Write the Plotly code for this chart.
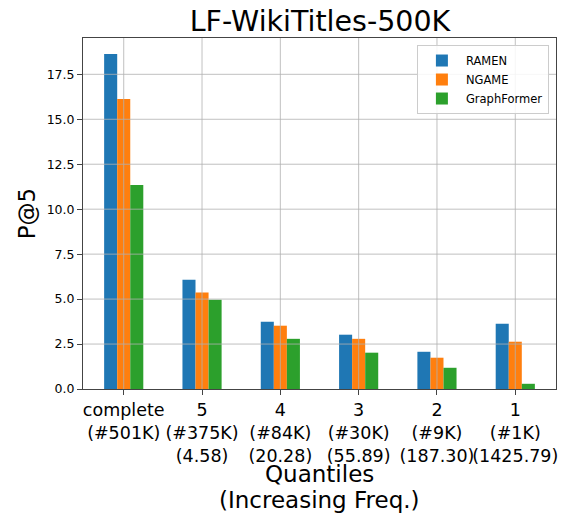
import plotly.graph_objects as go

categories = ["complete", "5", "4", "3", "2", "1"]
label_counts = ["(#501K)", "(#375K)", "(#84K)", "(#30K)", "(#9K)", "(#1K)"]
label_freqs = ["", "(4.58)", "(20.28)", "(55.89)", "(187.30)", "(1425.79)"]

ramen = [18.63, 6.07, 3.74, 3.02, 2.07, 3.63]
ngame = [16.13, 5.37, 3.52, 2.79, 1.74, 2.63]
graphformer = [11.35, 4.96, 2.79, 2.02, 1.18, 0.29]

y_ticks = [0.0, 2.5, 5.0, 7.5, 10.0, 12.5, 15.0, 17.5]

series = [("RAMEN", ramen, "#1f77b4"),
          ("NGAME", ngame, "#ff7f0e"),
          ("GraphFormer", graphformer, "#2ca02c")]

xpos = list(range(len(categories)))
ticktext = []
for c, n, f in zip(categories, label_counts, label_freqs):
    lines = [c, n] + ([f] if f else [])
    ticktext.append("<br>".join(lines))

FONT = "DejaVu Sans"
# page body adds an 8px offset; figure is sized to fit the remaining window
W, H = 559, 506
ML, MR, MT, MB = 75, 11, 30, 125
plot_h = H - MT - MB

fig = go.Figure()
for name, vals, col in series:
    fig.add_trace(go.Bar(x=xpos, y=vals, name=name, marker_color=col,
                         marker_line_width=0))

grid_col = "rgba(176,176,176,0.8)"
shapes = []
for xv in xpos:
    shapes.append(dict(type="line", xref="x", yref="paper", x0=xv, x1=xv, y0=0, y1=1,
                       line=dict(color=grid_col, width=1), layer="above"))
for yv in y_ticks[1:]:
    shapes.append(dict(type="line", xref="paper", yref="y", x0=0, x1=1, y0=yv, y1=yv,
                       line=dict(color=grid_col, width=1), layer="above"))

def below_axis(px):
    return -px / plot_h

fig.update_layout(
    width=W, height=H,
    margin=dict(l=ML, r=MR, t=MT, b=MB),
    paper_bgcolor="white", plot_bgcolor="white",
    barmode="group", bargap=0.5, bargroupgap=0,
    font=dict(family=FONT, color="black"),
    title=dict(text="LF-WikiTitles-500K", x=312 / W, xanchor="center",
               y=1 - 13 / H, yanchor="middle", font=dict(size=28.5, family=FONT)),
    showlegend=True,
    legend=dict(x=0.985, y=0.98, xanchor="right", yanchor="top",
                bgcolor="rgba(255,255,255,0.85)", bordercolor="#cccccc", borderwidth=1,
                font=dict(size=11.5, family=FONT), tracegroupgap=0, itemwidth=38),
    shapes=shapes,
    xaxis=dict(range=[-0.52, 5.52], tickvals=xpos, ticktext=ticktext, tickangle=0,
               tickfont=dict(size=17.5), showgrid=False, zeroline=False, automargin=False,
               showline=True, mirror=True, linecolor="#444", linewidth=1,
               ticks="outside", ticklen=5, tickcolor="#444"),
    yaxis=dict(range=[0, 19.52], tickvals=y_ticks, tickformat=".1f",
               tickfont=dict(size=12.5), showgrid=False, zeroline=False, automargin=False,
               showline=True, mirror=True, linecolor="#444", linewidth=1,
               ticks="outside", ticklen=5, tickcolor="#444",
               title=dict(text="P@5", font=dict(size=23), standoff=4)),
    annotations=[
        dict(text="Quantiles", xref="paper", yref="paper",
             x=0.5, y=below_axis(85), xanchor="center", yanchor="middle",
             showarrow=False, font=dict(size=23, family=FONT)),
        dict(text="(Increasing Freq.)", xref="paper", yref="paper",
             x=0.5, y=below_axis(110.5), xanchor="center", yanchor="middle",
             showarrow=False, font=dict(size=23, family=FONT)),
    ],
)

fig.write_html("out.html")
